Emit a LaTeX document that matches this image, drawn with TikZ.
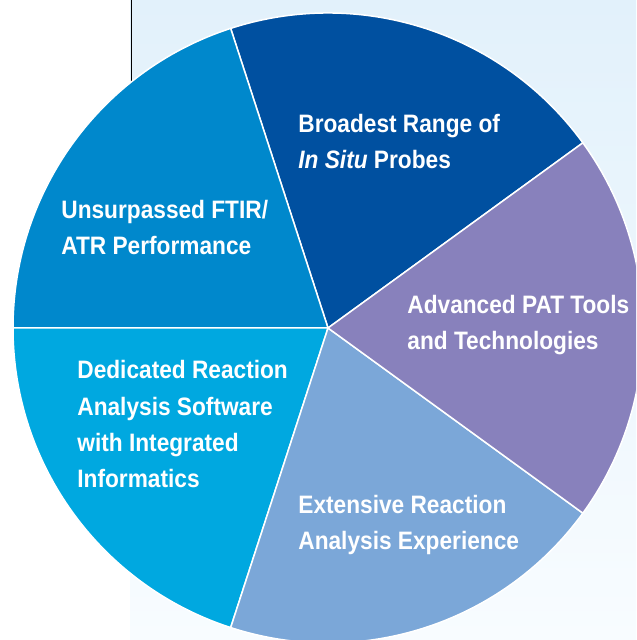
\documentclass[tikz,border=0pt]{standalone}
\usepackage{fontspec}
\setmainfont{Liberation Sans}[FakeStretch=0.9]
\definecolor{paneltop}{RGB}{226,241,251}
\definecolor{panelbottom}{RGB}{248,252,255}
\definecolor{rangeblue}{RGB}{0,80,160}
\definecolor{patpurple}{RGB}{136,129,188}
\definecolor{experblue}{RGB}{123,167,216}
\definecolor{softcyan}{RGB}{0,168,224}
\definecolor{ftirblue}{RGB}{0,136,204}
\begin{document}
\begin{tikzpicture}[x=0.5pt,y=0.5pt,
	slice/.style={draw=white,line width=0.75pt,line join=round},
	slicetext/.style={text=white,font=\bfseries\fontsize{12.6}{18.2}\selectfont,align=left,anchor=base west,inner sep=0pt}]
	\useasboundingbox (0,0) rectangle (636,640);
	\clip (0,0) rectangle (636,640);
	% panel behind the pie
	\shade[top color=paneltop,bottom color=panelbottom] (130,0) rectangle (636,640);
	\coordinate (ltop) at (131,640);
	\coordinate (lend) at (131,520);
	\draw[black,line width=0.5pt] (ltop) -- (lend);
	% the five slices
	\coordinate (c) at (328,312);
	\fill[slice,fill=rangeblue] (c) -- ++(36:315) arc[start angle=36,end angle=108,radius=315] -- cycle;
	\fill[slice,fill=ftirblue] (c) -- ++(108:315) arc[start angle=108,end angle=180,radius=315] -- cycle;
	\fill[slice,fill=softcyan] (c) -- ++(180:315) arc[start angle=180,end angle=252,radius=315] -- cycle;
	\fill[slice,fill=experblue] (c) -- ++(252:315) arc[start angle=252,end angle=324,radius=315] -- cycle;
	\fill[slice,fill=patpurple] (c) -- ++(-36:315) arc[start angle=-36,end angle=36,radius=315] -- cycle;
	% texts (placed by the baseline of their last line)
	\node[name=range,slicetext] at (298,471){Broadest Range of\\\textit{In Situ} Probes};
	\node[name=ftir,slicetext] at (61,385){Unsurpassed FTIR/\\ATR Performance};
	\node[name=pat,slicetext] at (407,290){Advanced PAT Tools\\and Technologies};
	\node[name=soft,slicetext] at (77,152){Dedicated Reaction\\Analysis Software\\with Integrated\\Informatics};
	\node[name=exper,slicetext] at (298,90){Extensive Reaction\\Analysis Experience};
\end{tikzpicture}
\end{document}
